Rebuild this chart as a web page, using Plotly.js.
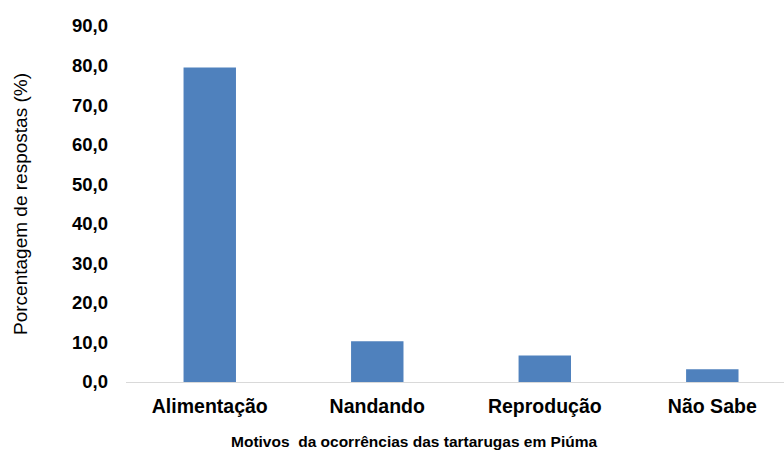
<!DOCTYPE html>
<html>
<head>
<meta charset="utf-8">
<script src="https://cdn.plot.ly/plotly-3.0.1.min.js"></script>
<style>
html,body{margin:0;padding:0;overflow:hidden;background:#fff;}
#chart{width:784px;height:459px;}
</style>
</head>
<body>
<div id="chart"></div>
<script>
const categories = ["Alimentação", "Nandando", "Reprodução", "Não Sabe"];
const values = [79.5, 10.3, 6.7, 3.2];
const yTickVals = [0, 10, 20, 30, 40, 50, 60, 70, 80, 90];
const yTickText = ["0,0", "10,0", "20,0", "30,0", "40,0", "50,0", "60,0", "70,0", "80,0", "90,0"];
const xTitle = "Motivos  da ocorrências das tartarugas em Piúma";
const yTitle = "Porcentagem de respostas (%)";

const FONT = "'Liberation Sans', Arial, sans-serif";

Plotly.newPlot("chart", [{
  type: "bar",
  x: [0, 1, 2, 3],
  y: values,
  width: 0.313,
  marker: {color: "#4F81BD"},
  hoverinfo: "skip"
}], {
  width: 784,
  height: 459,
  margin: {l: 126, r: 0, t: 26, b: 77},
  paper_bgcolor: "#fff",
  plot_bgcolor: "#fff",
  showlegend: false,
  font: {family: FONT, color: "#000"},
  xaxis: {
    range: [-0.5, 3.428],
    tickvals: [0, 1, 2, 3],
    ticktext: categories,
    tickfont: {family: FONT, size: 19.5, color: "#000", weight: "bold"},
    showgrid: false,
    zeroline: false,
    showline: true,
    linecolor: "#d9d9d9",
    linewidth: 1,
    ticks: "",
    ticklabelstandoff: 7
  },
  yaxis: {
    range: [0, 90],
    tickvals: yTickVals,
    ticktext: yTickText,
    tickfont: {family: FONT, size: 18.5, color: "#000", weight: "bold"},
    showgrid: false,
    zeroline: false,
    showline: false,
    ticks: "",
    ticklabelstandoff: 17,
    title: {text: yTitle, font: {family: FONT, size: 19, color: "#000"}, standoff: 39}
  },
  annotations: [{
    text: xTitle,
    xref: "paper", yref: "paper",
    x: 0.4377, y: -0.167,
    xanchor: "center", yanchor: "middle",
    showarrow: false,
    font: {family: FONT, size: 15.5, color: "#000", weight: "bold"}
  }]
}, {displayModeBar: false, staticPlot: true});
</script>
</body>
</html>
